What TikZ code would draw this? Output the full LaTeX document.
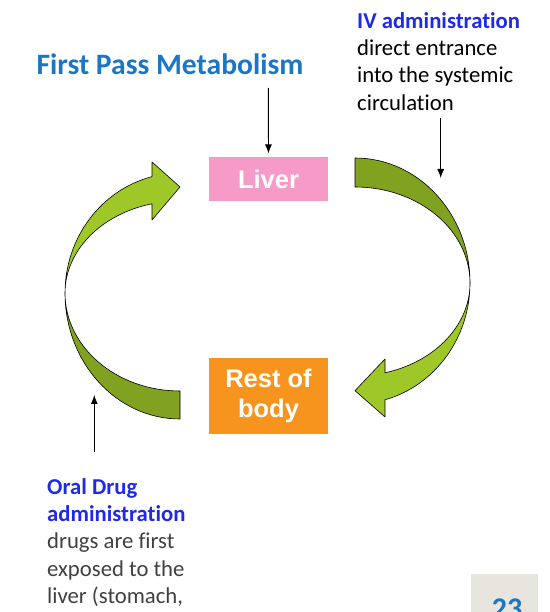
\documentclass[tikz,border=0pt]{standalone}
\usepackage{fontspec}
\setmainfont{Carlito}[Ligatures=NoCommon]
\newfontfamily\boxfont{Liberation Sans}
\usepackage{tikz}
\usetikzlibrary{arrows.meta, positioning}
\definecolor{titleblue}{RGB}{28,117,197}
\definecolor{labelblue}{RGB}{30,42,230}
\definecolor{liverpink}{RGB}{246,155,200}
\definecolor{bodyorange}{RGB}{247,148,30}
\definecolor{leafgreen}{RGB}{158,200,40}
\definecolor{olivegreen}{RGB}{128,162,32}
\definecolor{pagegrey}{RGB}{232,228,222}
\definecolor{bodygrey}{RGB}{64,64,64}

\begin{document}
\begin{tikzpicture}[x=1pt, y=1pt,
    organ/.style={text=white, font=\boxfont\bfseries\fontsize{25.5}{29.5}\selectfont,
                  minimum width=119pt, inner sep=0pt, align=center},
    notes/.style={anchor=north west, inner sep=0pt, align=left,
                  font=\fontsize{22.7}{27.4}\selectfont},
    pointer/.style={-{Latex[length=9pt,width=7pt]}, line width=0.9pt},
    band/.style={draw=black, line width=0.6pt, line join=round}]
    \useasboundingbox (0,0) rectangle (549,612);
    \clip (0,0) rectangle (549,612);

    % Title
    \node[anchor=base, text=titleblue, font=\bfseries\fontsize{29.6}{33}\selectfont] (title) at (170,537) {First Pass Metabolism};

    % Organ boxes
    \node[organ, fill=liverpink, minimum height=44pt] (liver) at (268.5,433) {Liver};
    \node[organ, fill=bodyorange, minimum height=76pt] (rest) at (268.5,216) {Rest of\\body};

    % Left curved arrow (oral route)
    \filldraw[band, fill=olivegreen] (65,319) arc[start angle=180, end angle=270, x radius=115, y radius=126]
        -- (180,221) arc[start angle=270, end angle=180, x radius=115, y radius=98] -- cycle;
    \filldraw[band, fill=leafgreen] (152,392) -- (152,408.2)
        arc[start angle=104.1, end angle=180, x radius=115, y radius=92]
        arc[start angle=180, end angle=104.1, x radius=115, y radius=120]
        -- (152,450) -- (180,425) -- cycle;

    % Right curved arrow (IV route)
    \filldraw[band, fill=olivegreen] (355,454) arc[start angle=90, end angle=0, x radius=115, y radius=125]
        arc[start angle=0, end angle=90, x radius=115, y radius=96] -- cycle;
    \filldraw[band, fill=leafgreen] (470,329)
        arc[start angle=0, end angle=-74.9, x radius=115, y radius=121]
        -- (385,195) -- (355,221.3) -- (385,253) -- (385,239.2)
        arc[start angle=-74.9, end angle=0, x radius=115, y radius=93] -- cycle;

    % Side notes
    \node[notes] (ivtext) at (357,600) {\textcolor{labelblue}{\bfseries IV administration}\\direct entrance\\into the systemic\\circulation};
    \node[notes, text=bodygrey] (oraltext) at (47,134) {\textcolor{labelblue}{\bfseries Oral Drug}\\\textcolor{labelblue}{\bfseries administration}\\drugs are first\\exposed to the\\liver (stomach,};

    % Pointers
    \coordinate (titlearrow) at (268.3,524);
    \coordinate (ivstart) at (440.7,494);
    \coordinate (ivtip) at (440.7,434);
    \coordinate (oralstart) at (94.3,160);
    \coordinate (oraltip) at (94.3,217);
    \draw[pointer, shorten >=3.4pt] (titlearrow) -- (liver.north);
    \draw[pointer] (ivstart) -- (ivtip);
    \draw[pointer] (oralstart) -- (oraltip);

    % Page number
    \fill[pagegrey] (471,0) rectangle (538,38);
    \node[anchor=base, text=titleblue, font=\bfseries\fontsize{30}{34}\selectfont] (pagenum) at (507,-6) {23};
\end{tikzpicture}
\end{document}
